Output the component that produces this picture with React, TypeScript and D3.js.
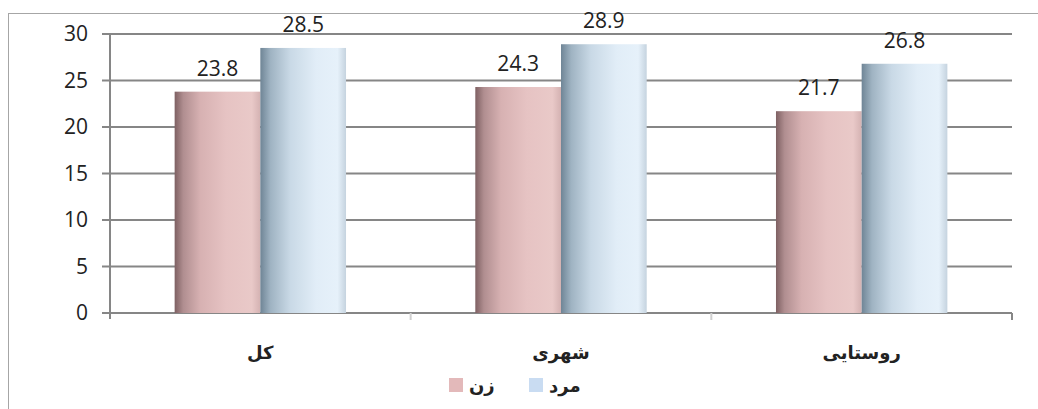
import { useEffect, useRef } from "react";
import * as d3 from "d3";

const categories = ["کل", "شهری", "روستایی"];
const women = [23.8, 24.3, 21.7];
const men = [28.5, 28.9, 26.8];
const yTicks = [0, 5, 10, 15, 20, 25, 30];
const seriesNames = ["زن", "مرد"];

export default function App() {
  const svgRef = useRef<SVGSVGElement | null>(null);

  useEffect(() => {
    if (!svgRef.current) return;
    const svg = d3.select(svgRef.current);
    svg.selectAll("*").remove();

    const width = 1038;
    const height = 409;
    const margin = { top: 34, right: 26, bottom: 96, left: 110 };
    const innerW = width - margin.left - margin.right;
    const innerH = height - margin.top - margin.bottom;

    const defs = svg.append("defs");
    const grad = (id: string, stops: [number, string][]) => {
      const g = defs
        .append("linearGradient")
        .attr("id", id)
        .attr("x1", "0%")
        .attr("x2", "100%")
        .attr("y1", "0%")
        .attr("y2", "0%");
      stops.forEach(([o, c]) => g.append("stop").attr("offset", `${o}%`).attr("stop-color", c));
    };
    grad("pink", [
      [0, "#7e6062"],
      [10, "#b08e90"],
      [30, "#d7b1b2"],
      [60, "#e6c3c3"],
      [90, "#e9c9c8"],
      [100, "#d4b2b2"],
    ]);
    grad("blue", [
      [0, "#6f8596"],
      [12, "#9fb3c2"],
      [35, "#c9d9e6"],
      [65, "#e1edf7"],
      [90, "#e6f1fa"],
      [100, "#c5d3df"],
    ]);

    // outer frame
    svg
      .append("rect")
      .attr("x", 8.5)
      .attr("y", 13.5)
      .attr("width", 1100)
      .attr("height", 500)
      .attr("fill", "#fff")
      .attr("stroke", "#a6a6a6");

    const g = svg.append("g").attr("transform", `translate(${margin.left},${margin.top})`);

    const x0 = d3.scaleBand().domain(categories).range([0, innerW]).paddingInner(0.43).paddingOuter(0.215);
    const x1 = d3.scaleBand().domain(seriesNames).range([0, x0.bandwidth()]).padding(0);
    const y = d3.scaleLinear().domain([0, 30]).range([innerH, 0]);

    // grid lines
    g.selectAll("line.grid")
      .data(yTicks)
      .enter()
      .append("line")
      .attr("x1", -8)
      .attr("x2", innerW)
      .attr("y1", (d) => y(d))
      .attr("y2", (d) => y(d))
      .attr("stroke", "#868686")
      .attr("stroke-width", 2);

    // y axis line
    g.append("line")
      .attr("x1", 0)
      .attr("x2", 0)
      .attr("y1", 0)
      .attr("y2", innerH + 6)
      .attr("stroke", "#868686")
      .attr("stroke-width", 2);

    // category boundary ticks
    const bounds = d3.range(1, categories.length + 1).map((i) => (innerW / categories.length) * i);
    g.selectAll("line.bt")
      .data(bounds)
      .enter()
      .append("line")
      .attr("x1", (d) => d)
      .attr("x2", (d) => d)
      .attr("y1", innerH)
      .attr("y2", innerH + 7)
      .attr("stroke", (d, i) => (i === bounds.length - 1 ? "#868686" : "#d0d0d0"))
      .attr("stroke-width", 2);

    // y tick labels
    g.selectAll("text.yt")
      .data(yTicks)
      .enter()
      .append("text")
      .attr("x", -22)
      .attr("y", (d) => y(d))
      .attr("dy", "0.35em")
      .attr("text-anchor", "end")
      .attr("font-family", "Open Sans, sans-serif")
      .attr("font-size", 21)
      .attr("fill", "#222")
      .text((d) => d);

    const rows = categories.map((c, i) => ({ c, vals: [women[i], men[i]] }));
    const groups = g
      .selectAll("g.grp")
      .data(rows)
      .enter()
      .append("g")
      .attr("transform", (d) => `translate(${x0(d.c)},0)`);

    groups
      .selectAll("rect")
      .data((d) => d.vals.map((v, j) => ({ v, s: seriesNames[j], j })))
      .enter()
      .append("rect")
      .attr("x", (d) => x1(d.s)!)
      .attr("width", x1.bandwidth())
      .attr("y", (d) => y(d.v))
      .attr("height", (d) => innerH - y(d.v))
      .attr("fill", (d) => (d.j === 0 ? "url(#pink)" : "url(#blue)"));

    groups
      .selectAll("text.val")
      .data((d) => d.vals.map((v, j) => ({ v, s: seriesNames[j] })))
      .enter()
      .append("text")
      .attr("x", (d) => x1(d.s)! + x1.bandwidth() / 2)
      .attr("y", (d) => y(d.v) - 16)
      .attr("text-anchor", "middle")
      .attr("font-family", "Open Sans, sans-serif")
      .attr("font-size", 21)
      .attr("fill", "#222")
      .text((d) => d.v.toFixed(1));

    // category labels
    g.selectAll("text.cat")
      .data(categories)
      .enter()
      .append("text")
      .attr("x", (d) => x0(d)! + x0.bandwidth() / 2)
      .attr("y", innerH + 46)
      .attr("text-anchor", "middle")
      .attr("direction", "rtl")
      .attr("font-family", "DejaVu Sans, sans-serif")
      .attr("font-weight", "bold")
      .attr("font-size", 18)
      .attr("fill", "#222")
      .text((d) => d);

    // legend
    const legend = svg.append("g");
    const legendItems = [
      { name: seriesNames[0], color: "#e3b9ba", x: 449 },
      { name: seriesNames[1], color: "#c9dcf2", x: 529 },
    ];
    legendItems.forEach((it) => {
      legend
        .append("rect")
        .attr("x", it.x)
        .attr("y", 378)
        .attr("width", 14)
        .attr("height", 14)
        .attr("fill", it.color);
      legend
        .append("text")
        .attr("x", it.x + 20)
        .attr("y", 392)
        .attr("text-anchor", "start")
        .attr("font-family", "DejaVu Sans, sans-serif")
        .attr("font-weight", "bold")
        .attr("font-size", 18)
        .attr("fill", "#222")
        .text(it.name);
    });
  }, []);

  return (
    <svg
      ref={svgRef}
      width={1038}
      height={409}
      style={{ position: "absolute", left: 0, top: 0, display: "block" }}
    />
  );
}
